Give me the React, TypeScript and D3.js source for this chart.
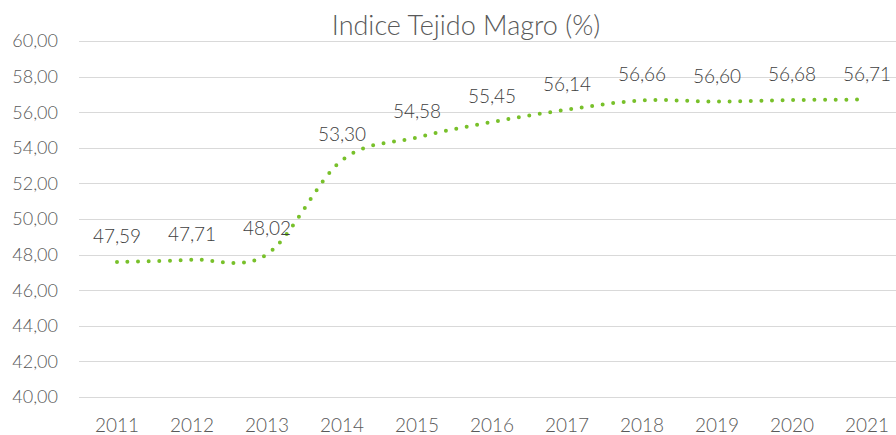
import React, { useEffect, useRef } from 'react';
import * as d3 from 'd3';

const years = ['2011', '2012', '2013', '2014', '2015', '2016', '2017', '2018', '2019', '2020', '2021'];
const values = [47.59, 47.71, 48.02, 53.3, 54.58, 55.45, 56.14, 56.66, 56.6, 56.68, 56.71];
const yTicks = [40, 42, 44, 46, 48, 50, 52, 54, 56, 58, 60];

const fmt = (v: number) => v.toFixed(2).replace('.', ',');

export default function App() {
  const svgRef = useRef<SVGSVGElement>(null);

  useEffect(() => {
    if (!svgRef.current) return;
    const svg = d3.select(svgRef.current);
    svg.selectAll('*').remove();

    const W = 896;
    const H = 435;
    const font = 'Lato, "DejaVu Sans", sans-serif';

    const x = d3.scaleBand<string>().domain(years).range([79.5, 904.5]);
    const y = d3.scaleLinear().domain([40, 60]).range([397, 41]);
    const cx = (d: string) => (x(d) ?? 0) + x.bandwidth() / 2;

    svg.append('rect').attr('width', W).attr('height', H).attr('fill', '#ffffff');

    // Title
    svg.append('text')
      .attr('x', 466)
      .attr('y', 35)
      .attr('text-anchor', 'middle')
      .style('font-family', font)
      .style('font-weight', '300')
      .style('font-size', '27px')
      .style('fill', '#595959')
      .text('Indice Tejido Magro (%)');

    // Gridlines
    svg.append('g')
      .selectAll('line')
      .data(yTicks)
      .enter()
      .append('line')
      .attr('x1', 79)
      .attr('x2', W)
      .attr('y1', d => Math.round(y(d)) + 0.5)
      .attr('y2', d => Math.round(y(d)) + 0.5)
      .attr('stroke', '#d9d9d9')
      .attr('stroke-width', 1);

    // Y labels
    svg.append('g')
      .selectAll('text')
      .data(yTicks)
      .enter()
      .append('text')
      .attr('x', 58)
      .attr('y', d => y(d))
      .attr('dy', '0.35em')
      .attr('text-anchor', 'end')
      .style('font-family', font)
      .style('font-weight', '300')
      .style('font-size', '18px')
      .style('fill', '#595959')
      .text(d => fmt(d));

    // X labels
    svg.append('g')
      .selectAll('text')
      .data(years)
      .enter()
      .append('text')
      .attr('x', d => cx(d))
      .attr('y', 432)
      .attr('text-anchor', 'middle')
      .style('font-family', font)
      .style('font-weight', '300')
      .style('font-size', '19px')
      .style('fill', '#595959')
      .text(d => d);

    // Smoothed dotted line
    const line = d3.line<number>()
      .x((_, i) => cx(years[i]))
      .y(d => y(d))
      .curve(d3.curveCardinal.tension(0));

    svg.append('path')
      .datum(values)
      .attr('d', line)
      .attr('fill', 'none')
      .attr('stroke', '#78c02a')
      .attr('stroke-width', 4)
      .attr('stroke-linecap', 'round')
      .attr('stroke-dasharray', '0 10.6');

    // Data labels
    svg.append('g')
      .selectAll('text')
      .data(values)
      .enter()
      .append('text')
      .attr('x', (_, i) => cx(years[i]))
      .attr('y', d => y(d) - 19)
      .attr('text-anchor', 'middle')
      .style('font-family', font)
      .style('font-weight', '300')
      .style('font-size', '19px')
      .style('fill', '#404040')
      .text(d => fmt(d));
  }, []);

  return (
    <div style={{ position: 'fixed', top: 0, left: 0, width: 896, height: 435, overflow: 'hidden' }}>
      <svg ref={svgRef} width={896} height={435} style={{ display: 'block' }} />
    </div>
  );
}
